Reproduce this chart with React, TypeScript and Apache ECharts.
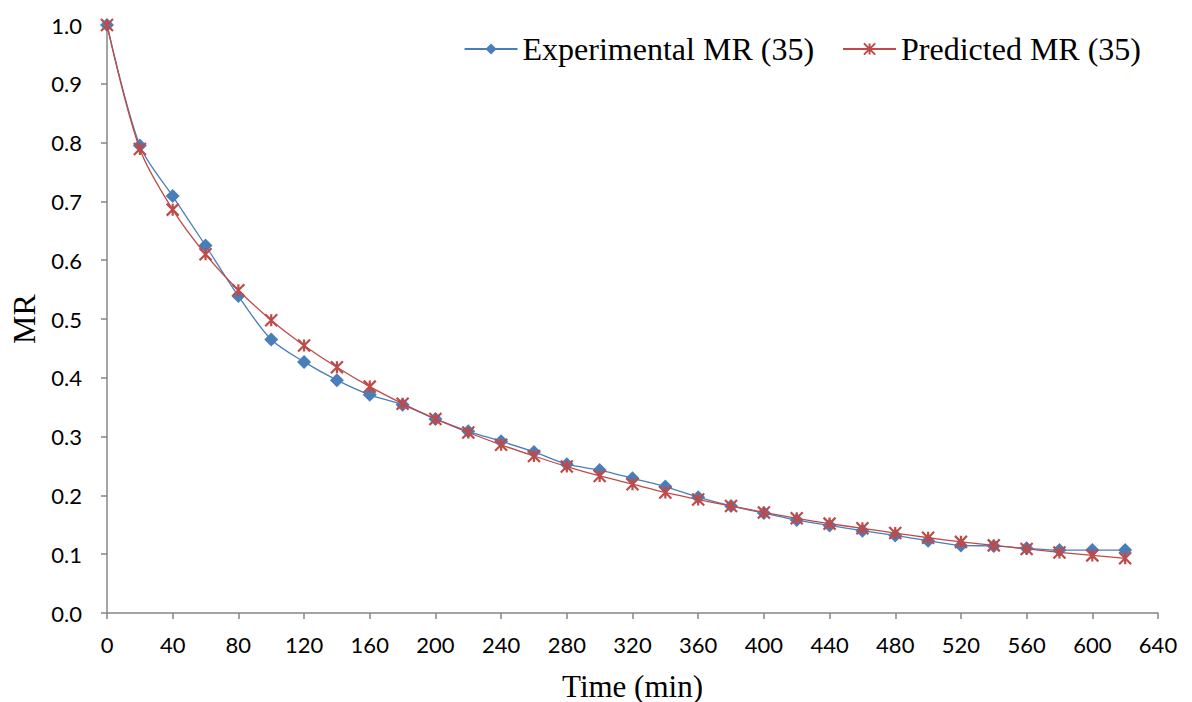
import React, { useEffect, useRef } from "react";
import * as echarts from "echarts";

const times = [0, 20, 40, 60, 80, 100, 120, 140, 160, 180, 200, 220, 240, 260, 280, 300, 320, 340, 360, 380, 400, 420, 440, 460, 480, 500, 520, 540, 560, 580, 600, 620];
const experimentalMR = [1.0, 0.795, 0.709, 0.625, 0.539, 0.465, 0.427, 0.396, 0.371, 0.354, 0.330, 0.309, 0.292, 0.274, 0.253, 0.243, 0.229, 0.215, 0.197, 0.182, 0.170, 0.158, 0.149, 0.140, 0.132, 0.123, 0.115, 0.114, 0.110, 0.107, 0.107, 0.107];
const predictedMR = [1.0, 0.789, 0.686, 0.610, 0.549, 0.498, 0.455, 0.418, 0.385, 0.356, 0.330, 0.307, 0.286, 0.267, 0.249, 0.233, 0.219, 0.205, 0.193, 0.182, 0.171, 0.161, 0.152, 0.144, 0.136, 0.128, 0.121, 0.115, 0.109, 0.103, 0.098, 0.093];
const seriesNames = ["Experimental MR (35)", "Predicted MR (35)"];
const xTitle = "Time (min)";
const yTitle = "MR";

const BLUE = "#4A7EBB";
const RED = "#BE4B48";
const AXIS = "#868686";
const ASTERISK = "path://M0 0 L10 10 M10 0 L0 10 M5 0 L5 10";

export default function App() {
  const ref = useRef<HTMLDivElement>(null);
  useEffect(() => {
    if (!ref.current) return;
    const chart = echarts.init(ref.current, null, { renderer: "svg" });
    chart.setOption({
      animation: false,
      backgroundColor: "#ffffff",
      grid: { left: 107, right: 34, top: 25, bottom: 89, outerBoundsMode: "none", containLabel: false },
      legend: {
        top: 28,
        right: 46,
        itemWidth: 53,
        itemHeight: 14,
        itemGap: 28,
        textStyle: { fontFamily: "Liberation Serif", fontSize: 32, color: "#000" },
        data: seriesNames,
      },
      xAxis: {
        type: "value",
        min: 0,
        max: 640,
        interval: 40,
        name: xTitle,
        nameLocation: "middle",
        nameGap: 58,
        nameTextStyle: { fontFamily: "Liberation Serif", fontSize: 31, lineHeight: 30, color: "#000" },
        axisLine: { lineStyle: { color: AXIS, width: 1.5 } },
        axisTick: { show: true, length: 6, lineStyle: { color: AXIS, width: 1.5 } },
        axisLabel: { margin: 20, fontFamily: "Lato", fontSize: 22, color: "#000" },
        splitLine: { show: false },
      },
      yAxis: {
        type: "value",
        min: 0,
        max: 1,
        interval: 0.1,
        name: yTitle,
        nameLocation: "middle",
        nameGap: 66,
        nameRotate: 90,
        nameTextStyle: { fontFamily: "Liberation Serif", fontSize: 32, color: "#000" },
        axisLine: { show: true, lineStyle: { color: AXIS, width: 1.5 } },
        axisTick: { show: true, length: 6, lineStyle: { color: AXIS, width: 1.5 } },
        axisLabel: {
          margin: 25,
          fontFamily: "Lato",
          fontSize: 22,
          color: "#000",
          formatter: (v: number) => v.toFixed(1),
        },
        splitLine: { show: false },
      },
      series: [
        {
          name: seriesNames[0],
          type: "line",
          smooth: 0.3,
          data: times.map((t, i) => [t, experimentalMR[i]]),
          symbol: "diamond",
          symbolSize: 14,
          itemStyle: { color: BLUE },
          lineStyle: { color: BLUE, width: 1.3 },
          z: 2,
        },
        {
          name: seriesNames[1],
          type: "line",
          smooth: 0.3,
          data: times.map((t, i) => [t, predictedMR[i]]),
          symbol: ASTERISK,
          symbolSize: 12,
          itemStyle: { color: "rgba(0,0,0,0)", borderColor: RED, borderWidth: 2.2 },
          lineStyle: { color: RED, width: 1.3 },
          z: 3,
        },
      ],
    });
    return () => chart.dispose();
  }, []);
  return (
    <div
      ref={ref}
      style={{ position: "fixed", left: 0, top: 0, width: 1192, height: 702, background: "#fff" }}
    />
  );
}
